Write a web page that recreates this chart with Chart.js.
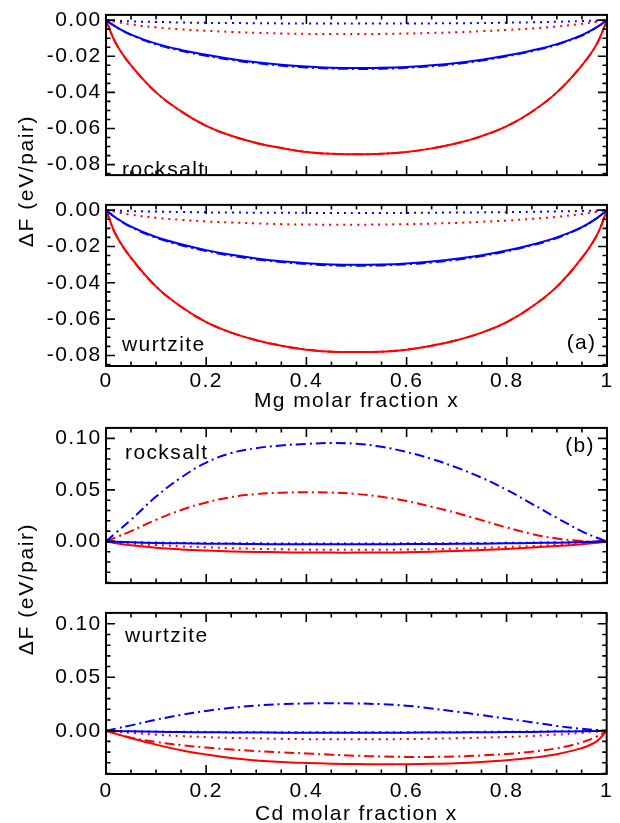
<!DOCTYPE html>
<html lang="en">
<head>
<meta charset="UTF-8">
<title>Free energy of mixing</title>
<script src="https://cdn.jsdelivr.net/npm/chart.js@4.4.1/dist/chart.umd.min.js"></script>
<style>
  body { margin: 0; background: #fff; }
  #wrap { position: relative; width: 620px; height: 823px; font-family: 'Liberation Sans', Arial, sans-serif; color: #000; }
  canvas { position: absolute; left: 0; }
  .ytitle { position: absolute; font-size: 21px; line-height: 21px; letter-spacing: 1.6px; white-space: nowrap;
            transform: translate(-50%, -50%) rotate(-90deg); }
</style>
</head>
<body>
<div id="wrap">
  <canvas id="p1" width="620" height="190" style="top:0px"></canvas>
  <canvas id="p2" width="620" height="223" style="top:190px"></canvas>
  <canvas id="p3" width="620" height="185" style="top:413px"></canvas>
  <canvas id="p4" width="620" height="225" style="top:598px"></canvas>
  <div class="ytitle" style="left:25px;top:181px">ΔF (eV/pair)</div>
  <div class="ytitle" style="left:25px;top:589px">ΔF (eV/pair)</div>
</div>
<script>
// molar fraction grid shared by every curve
const xs = [0, 0.02, 0.05, 0.1, 0.15, 0.2, 0.25, 0.3, 0.35, 0.4, 0.45, 0.5, 0.55, 0.6, 0.65, 0.7, 0.75, 0.8, 0.85, 0.9, 0.95, 0.98, 1];
const xTicks = [0, 0.2, 0.4, 0.6, 0.8, 1];
const mgTicks = [-0.08, -0.06, -0.04, -0.02, 0];
const cdTicks = [0, 0.05, 0.10];

// Mg, rocksalt
const mgRsRedSolid = [0, -0.0130, -0.0250, -0.0400, -0.0505, -0.0585, -0.0640, -0.0680, -0.0708, -0.0730, -0.0740, -0.0742, -0.0740, -0.0730, -0.0710, -0.0682, -0.0642, -0.0587, -0.0507, -0.0400, -0.0250, -0.0130, 0];
const mgRsRedDashDot = [0, -0.0130, -0.0250, -0.0400, -0.0505, -0.0585, -0.0640, -0.0680, -0.0708, -0.0730, -0.0740, -0.0742, -0.0740, -0.0730, -0.0710, -0.0682, -0.0642, -0.0587, -0.0507, -0.0400, -0.0250, -0.0130, 0];
const mgRsRedDot = [0, -0.0010, -0.0024, -0.0040, -0.0051, -0.0059, -0.0065, -0.0070, -0.0074, -0.0076, -0.0077, -0.0077, -0.0076, -0.0074, -0.0071, -0.0067, -0.0061, -0.0054, -0.0046, -0.0035, -0.0020, -0.0009, 0];
const mgRsBlueSolid = [0, -0.0037, -0.0080, -0.0130, -0.0165, -0.0192, -0.0215, -0.0233, -0.0247, -0.0257, -0.0263, -0.0265, -0.0264, -0.0259, -0.0250, -0.0237, -0.0219, -0.0196, -0.0168, -0.0133, -0.0083, -0.0038, 0];
const mgRsBlueDashDot = [0, -0.0038, -0.0082, -0.0134, -0.0170, -0.0197, -0.0220, -0.0238, -0.0252, -0.0262, -0.0268, -0.0270, -0.0269, -0.0264, -0.0255, -0.0242, -0.0224, -0.0200, -0.0172, -0.0136, -0.0085, -0.0039, 0];
const mgRsBlueDot = [0, -0.0003, -0.0007, -0.0010, -0.0013, -0.0015, -0.0016, -0.0017, -0.0018, -0.0018, -0.0019, -0.0019, -0.0019, -0.0018, -0.0018, -0.0017, -0.0016, -0.0014, -0.0012, -0.0009, -0.0005, -0.0002, 0];

// Mg, wurtzite
const mgWzRedSolid = [0, -0.0137, -0.0263, -0.0421, -0.0532, -0.0616, -0.0674, -0.0716, -0.0746, -0.0768, -0.0779, -0.0781, -0.0779, -0.0768, -0.0746, -0.0716, -0.0674, -0.0616, -0.0532, -0.0421, -0.0263, -0.0137, 0];
const mgWzRedDashDot = [0, -0.0137, -0.0263, -0.0421, -0.0532, -0.0616, -0.0674, -0.0716, -0.0746, -0.0768, -0.0779, -0.0781, -0.0779, -0.0768, -0.0746, -0.0716, -0.0674, -0.0616, -0.0532, -0.0421, -0.0263, -0.0137, 0];
const mgWzRedDot = [0, -0.0010, -0.0025, -0.0042, -0.0053, -0.0062, -0.0068, -0.0073, -0.0077, -0.0079, -0.0080, -0.0080, -0.0079, -0.0077, -0.0074, -0.0070, -0.0064, -0.0057, -0.0048, -0.0037, -0.0021, -0.0009, 0];
const mgWzBlueSolid = [0, -0.0042, -0.0091, -0.0148, -0.0188, -0.0220, -0.0246, -0.0266, -0.0281, -0.0292, -0.0299, -0.0301, -0.0299, -0.0293, -0.0283, -0.0268, -0.0248, -0.0222, -0.0190, -0.0150, -0.0093, -0.0043, 0];
const mgWzBlueDashDot = [0, -0.0043, -0.0093, -0.0152, -0.0193, -0.0225, -0.0251, -0.0271, -0.0286, -0.0297, -0.0304, -0.0306, -0.0304, -0.0298, -0.0288, -0.0273, -0.0253, -0.0226, -0.0194, -0.0153, -0.0095, -0.0044, 0];
const mgWzBlueDot = [0, -0.0002, -0.0005, -0.0008, -0.0010, -0.0012, -0.0013, -0.0014, -0.0014, -0.0015, -0.0015, -0.0015, -0.0015, -0.0015, -0.0014, -0.0013, -0.0012, -0.0011, -0.0009, -0.0007, -0.0004, -0.0002, 0];

// Cd, rocksalt
const cdRsRedSolid = [0, -0.0018, -0.0038, -0.0062, -0.0078, -0.0089, -0.0097, -0.0102, -0.0106, -0.0108, -0.0109, -0.0109, -0.0108, -0.0105, -0.0100, -0.0093, -0.0084, -0.0073, -0.0060, -0.0045, -0.0027, -0.0013, 0];
const cdRsRedDashDot = [0, 0.0040, 0.0100, 0.0210, 0.0305, 0.0378, 0.0430, 0.0460, 0.0473, 0.0477, 0.0474, 0.0460, 0.0433, 0.0392, 0.0337, 0.0275, 0.0205, 0.0135, 0.0072, 0.0028, 0.0004, -0.0002, 0];
const cdRsRedDot = [0, -0.0008, -0.0020, -0.0035, -0.0048, -0.0058, -0.0066, -0.0072, -0.0077, -0.0080, -0.0082, -0.0082, -0.0081, -0.0079, -0.0075, -0.0070, -0.0063, -0.0055, -0.0045, -0.0033, -0.0018, -0.0008, 0];
const cdRsBlueSolid = [0, -0.0004, -0.0009, -0.0015, -0.0019, -0.0022, -0.0024, -0.0026, -0.0027, -0.0027, -0.0027, -0.0027, -0.0027, -0.0026, -0.0025, -0.0024, -0.0022, -0.0019, -0.0016, -0.0012, -0.0007, -0.0003, 0];
const cdRsBlueDashDot = [0, 0.0085, 0.0210, 0.0435, 0.0620, 0.0765, 0.0858, 0.0905, 0.0932, 0.0947, 0.0955, 0.0948, 0.0918, 0.0868, 0.0800, 0.0717, 0.0618, 0.0500, 0.0365, 0.0228, 0.0098, 0.0035, 0];
const cdRsBlueDot = [0, -0.0003, -0.0007, -0.0011, -0.0014, -0.0016, -0.0018, -0.0019, -0.0020, -0.0020, -0.0020, -0.0020, -0.0020, -0.0019, -0.0019, -0.0018, -0.0016, -0.0014, -0.0012, -0.0009, -0.0005, -0.0002, 0];

// Cd, wurtzite
const cdWzRedSolid = [0, -0.0030, -0.0070, -0.0130, -0.0182, -0.0222, -0.0255, -0.0278, -0.0293, -0.0302, -0.0308, -0.0312, -0.0314, -0.0313, -0.0310, -0.0304, -0.0293, -0.0277, -0.0254, -0.0220, -0.0163, -0.0100, 0];
const cdWzRedDashDot = [0, -0.0028, -0.0065, -0.0105, -0.0135, -0.0158, -0.0176, -0.0190, -0.0202, -0.0213, -0.0224, -0.0234, -0.0241, -0.0245, -0.0245, -0.0241, -0.0232, -0.0218, -0.0197, -0.0165, -0.0110, -0.0055, 0];
const cdWzRedDot = [0, -0.0008, -0.0020, -0.0037, -0.0050, -0.0060, -0.0067, -0.0072, -0.0076, -0.0079, -0.0080, -0.0080, -0.0080, -0.0078, -0.0075, -0.0071, -0.0065, -0.0058, -0.0049, -0.0037, -0.0021, -0.0009, 0];
const cdWzBlueSolid = [0, -0.0003, -0.0006, -0.0010, -0.0013, -0.0015, -0.0016, -0.0017, -0.0018, -0.0018, -0.0018, -0.0018, -0.0018, -0.0018, -0.0017, -0.0016, -0.0015, -0.0013, -0.0011, -0.0008, -0.0005, -0.0002, 0];
const cdWzBlueDashDot = [0, 0.0020, 0.0050, 0.0103, 0.0148, 0.0185, 0.0214, 0.0235, 0.0248, 0.0255, 0.0257, 0.0255, 0.0248, 0.0234, 0.0208, 0.0178, 0.0146, 0.0113, 0.0080, 0.0045, 0.0018, 0.0006, 0];
const cdWzBlueDot = [0, -0.0002, -0.0005, -0.0008, -0.0010, -0.0011, -0.0012, -0.0013, -0.0014, -0.0014, -0.0014, -0.0014, -0.0014, -0.0014, -0.0013, -0.0012, -0.0011, -0.0010, -0.0008, -0.0006, -0.0004, -0.0002, 0];

const RED = '#ff0000', BLUE = '#0000ff';
const SOLID = [], DOT = [2, 5], DASHDOT = [10, 4, 2, 4];
const SPACING = '1.4px';

Chart.defaults.font.family = "'Liberation Sans', Arial, sans-serif";
Chart.defaults.font.size = 21;
Chart.defaults.color = '#000';

function curve(vals, color, dash) {
  return {
    data: xs.map((x, i) => ({ x: x, y: vals[i] })),
    borderColor: color,
    borderDash: dash,
    borderWidth: 2,
    pointRadius: 0,
    fill: false,
    tension: 0.4
  };
}

// first dataset is painted last, so blue goes first to sit on top
function sixCurves(rs, rd, rdt, bs, bd, bdt) {
  return [
    curve(bs, BLUE, SOLID), curve(bd, BLUE, DASHDOT), curve(bdt, BLUE, DOT),
    curve(rs, RED, SOLID), curve(rd, RED, DASHDOT), curve(rdt, RED, DOT)
  ];
}

// wider letter spacing on every canvas text
const spacing = {
  id: 'spacing',
  beforeLayout(chart) { chart.ctx.letterSpacing = SPACING; },
  beforeDraw(chart) { chart.ctx.letterSpacing = SPACING; }
};

// box around the plot area with inward ticks on all four sides
const frame = {
  id: 'frame',
  afterDatasetsDraw(chart, args, o) {
    const { ctx, chartArea: a, scales: { x, y } } = chart;
    ctx.save();
    ctx.strokeStyle = '#000';
    ctx.lineWidth = 1.6;
    const major = 9, minor = 4.5;
    const mod = (i, n) => ((i % n) + n) % n;
    let i0 = Math.ceil(x.min / o.xStep - 1e-6), i1 = Math.floor(x.max / o.xStep + 1e-6);
    ctx.beginPath();
    for (let i = i0; i <= i1; i++) {
      const px = x.getPixelForValue(i * o.xStep);
      const len = mod(i, o.xEvery) === 0 ? major : minor;
      ctx.moveTo(px, a.bottom); ctx.lineTo(px, a.bottom - len);
      ctx.moveTo(px, a.top); ctx.lineTo(px, a.top + len);
    }
    i0 = Math.ceil(y.min / o.yStep - 1e-6); i1 = Math.floor(y.max / o.yStep + 1e-6);
    for (let i = i0; i <= i1; i++) {
      const py = y.getPixelForValue(i * o.yStep);
      const len = mod(i, o.yEvery) === 0 ? major : minor;
      ctx.moveTo(a.left, py); ctx.lineTo(a.left + len, py);
      ctx.moveTo(a.right, py); ctx.lineTo(a.right - len, py);
    }
    ctx.stroke();
    ctx.lineWidth = 2;
    ctx.strokeRect(a.left, a.top, a.right - a.left, a.bottom - a.top);
    ctx.restore();
  }
};

// structure names and panel letters
const panelText = {
  id: 'panelText',
  afterDraw(chart, args, o) {
    const ctx = chart.ctx;
    ctx.save();
    ctx.letterSpacing = SPACING;
    ctx.fillStyle = '#000';
    ctx.font = "21px 'Liberation Sans', Arial, sans-serif";
    ctx.textBaseline = 'alphabetic';
    (o.labels || []).forEach(l => {
      ctx.textAlign = l.align || 'left';
      ctx.fillText(l.text, l.x, l.y);
    });
    ctx.restore();
  }
};

function panel(id, datasets, o) {
  return new Chart(document.getElementById(id), {
    type: 'line',
    data: { datasets: datasets },
    options: {
      responsive: false,
      animation: false,
      events: [],
      layout: { padding: { top: o.padTop, bottom: o.padBottom, left: 0, right: 13 } },
      plugins: {
        legend: { display: false },
        tooltip: { enabled: false },
        frame: { xStep: 0.05, xEvery: 4, yStep: o.yStep, yEvery: o.yEvery },
        panelText: { labels: o.labels }
      },
      scales: {
        x: {
          type: 'linear', min: 0, max: 1,
          grid: { display: false, drawTicks: false },
          border: { display: false },
          afterBuildTicks: s => { s.ticks = xTicks.map(v => ({ value: v })); },
          afterFit: s => { s.height = o.xHeight; },
          ticks: {
            display: !!o.xTitle, padding: o.xPad, autoSkip: false, maxRotation: 0,
            font: { size: 21, lineHeight: 1 },
            callback: v => String(v)
          },
          title: { display: !!o.xTitle, text: o.xTitle, padding: { top: 0, bottom: o.titlePad || 0 }, font: { size: 21, lineHeight: 1 } }
        },
        y: {
          type: 'linear', min: o.yMin, max: o.yMax,
          grid: { display: false, drawTicks: false },
          border: { display: false },
          afterBuildTicks: s => { s.ticks = o.yTicks.map(v => ({ value: v })); },
          afterFit: s => { s.width = 106; },
          ticks: {
            padding: 4.4, autoSkip: false,
            font: { size: 21, lineHeight: 1 },
            callback: v => v.toFixed(2)
          }
        }
      }
    },
    plugins: [spacing, frame, panelText]
  });
}

panel('p1', sixCurves(mgRsRedSolid, mgRsRedDashDot, mgRsRedDot, mgRsBlueSolid, mgRsBlueDashDot, mgRsBlueDot), {
  padTop: 14.7, padBottom: 2, xHeight: 0,
  yMin: -0.0858, yMax: 0.0029, yTicks: mgTicks, yStep: 0.005, yEvery: 4,
  labels: [{ text: 'rocksalt', x: 122, y: 176.3 }]
});

panel('p2', sixCurves(mgWzRedSolid, mgWzRedDashDot, mgWzRedDot, mgWzBlueSolid, mgWzBlueDashDot, mgWzBlueDot), {
  padTop: 2.7, padBottom: 0, xHeight: 47, xPad: 4.8, titlePad: 1, xTitle: 'Mg molar fraction x',
  yMin: -0.0858, yMax: 0.0029, yTicks: mgTicks, yStep: 0.005, yEvery: 4,
  labels: [{ text: 'wurtzite', x: 122, y: 161 }, { text: '(a)', x: 596.5, y: 158.5, align: 'right' }]
});

panel('p3', sixCurves(cdRsRedSolid, cdRsRedDashDot, cdRsRedDot, cdRsBlueSolid, cdRsBlueDashDot, cdRsBlueDot), {
  padTop: 10.3, padBottom: 2, xHeight: 0,
  yMin: -0.0405, yMax: 0.1102, yTicks: cdTicks, yStep: 0.01, yEvery: 5,
  labels: [{ text: 'rocksalt', x: 125, y: 46.3 }, { text: '(b)', x: 595, y: 38.7, align: 'right' }]
});

panel('p4', sixCurves(cdWzRedSolid, cdWzRedDashDot, cdWzRedDot, cdWzBlueSolid, cdWzBlueDashDot, cdWzBlueDot), {
  padTop: 3.7, padBottom: 0, xHeight: 49, xPad: 6.8, titlePad: -1.5, xTitle: 'Cd molar fraction x',
  yMin: -0.0405, yMax: 0.1102, yTicks: cdTicks, yStep: 0.01, yEvery: 5,
  labels: [{ text: 'wurtzite', x: 125, y: 43.7 }]
});
</script>
</body>
</html>
